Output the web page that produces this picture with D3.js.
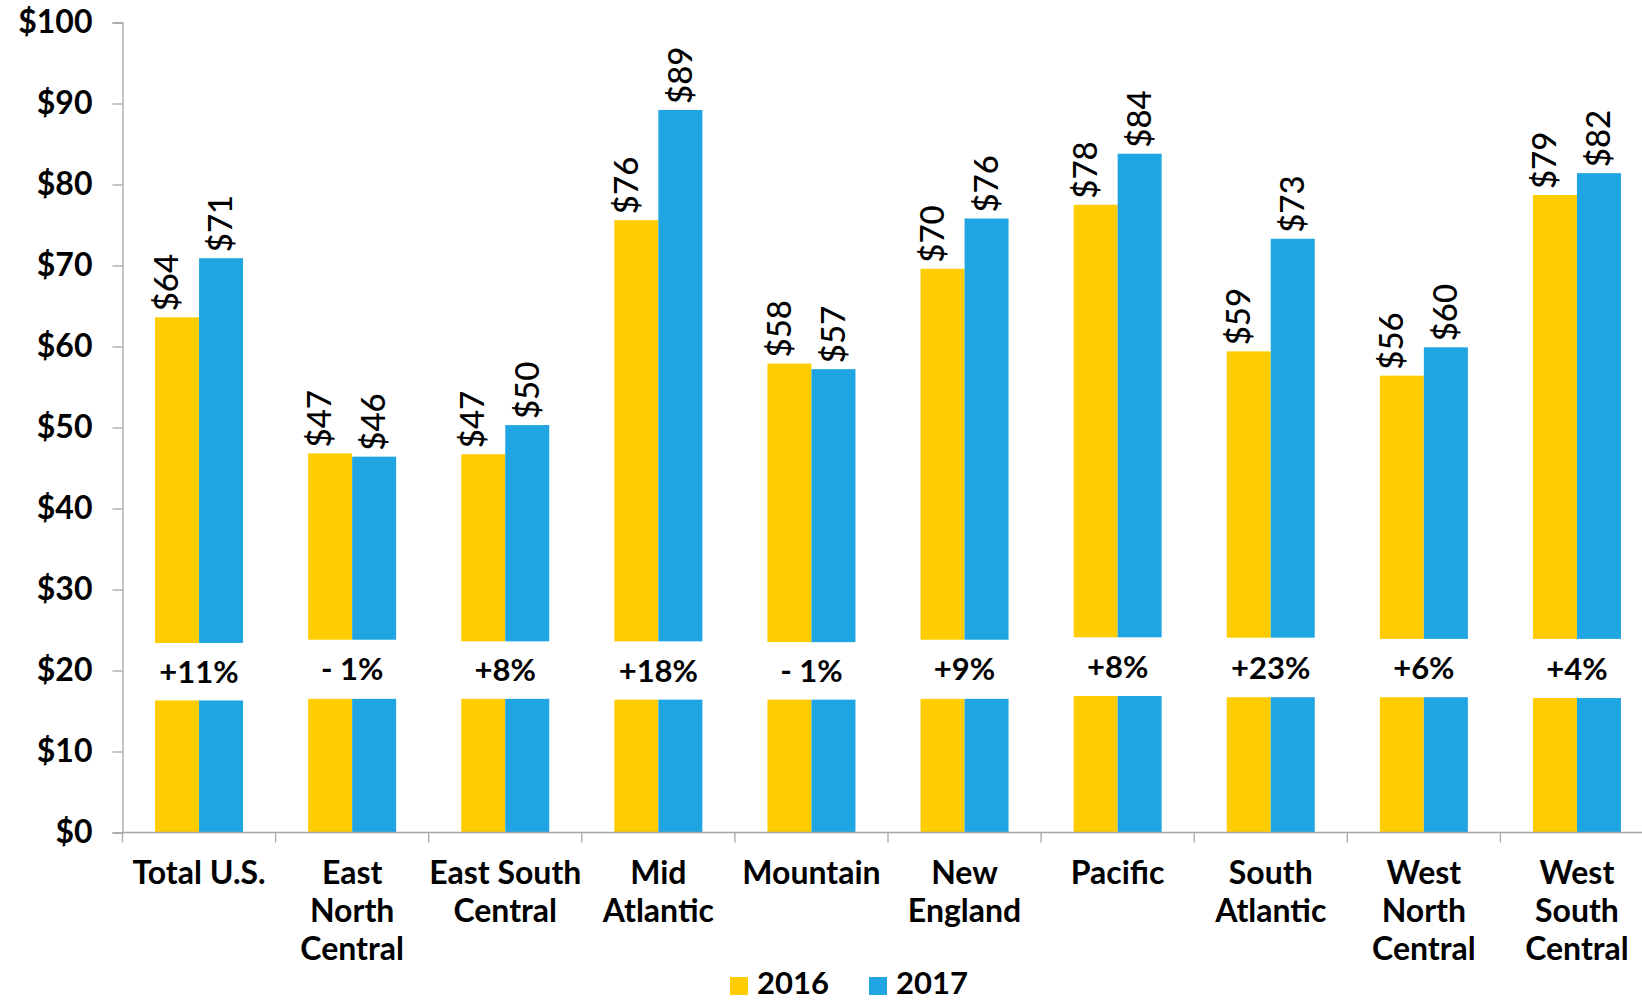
<!DOCTYPE html>
<html>
<head>
<meta charset="utf-8">
<script src="https://cdn.jsdelivr.net/npm/d3@7"></script>
<style>
  html, body { margin: 0; padding: 0; background: #fff; }
  svg { display: block; }
  text { font-family: Lato, "Open Sans", sans-serif; fill: #000; }
</style>
</head>
<body>
<svg id="chart" width="1642" height="1001"></svg>
<script>
// ---- data ----
const categories = ["Total U.S.", "East North Central", "East South Central", "Mid Atlantic", "Mountain",
                    "New England", "Pacific", "South Atlantic", "West North Central", "West South Central"];
const categoryLines = [["Total U.S."], ["East", "North", "Central"], ["East South", "Central"], ["Mid", "Atlantic"],
                       ["Mountain"], ["New", "England"], ["Pacific"], ["South", "Atlantic"],
                       ["West", "North", "Central"], ["West", "South", "Central"]];
const series = ["2016", "2017"];
const values2016 = [63.6, 46.8, 46.7, 75.6, 57.9, 69.6, 77.5, 59.4, 56.4, 78.7];
const values2017 = [70.9, 46.4, 50.3, 89.2, 57.2, 75.8, 83.8, 73.3, 59.9, 81.4];
const labels2016 = ["$64", "$47", "$47", "$76", "$58", "$70", "$78", "$59", "$56", "$79"];
const labels2017 = ["$71", "$46", "$50", "$89", "$57", "$76", "$84", "$73", "$60", "$82"];
const changeLabels = ["+11%", "- 1%", "+8%", "+18%", "- 1%", "+9%", "+8%", "+23%", "+6%", "+4%"];
// axis break (value units) per category: bars are interrupted between these values
const breakLow  = [16.3, 16.5, 16.5, 16.4, 16.4, 16.5, 16.85, 16.7, 16.7, 16.6];
const breakHigh = [23.4, 23.8, 23.6, 23.6, 23.5, 23.8, 24.1, 24.05, 23.9, 23.9];
const yTicks = [0, 10, 20, 30, 40, 50, 60, 70, 80, 90, 100];

const colors = { "2016": "#FFCC00", "2017": "#1FA5E1" };
const axisColor = "#a6a6a6";

// ---- layout ----
const svg = d3.select("#chart");
const x0 = 122.5, x1 = 1653.5;
const y = d3.scaleLinear().domain([0, 100]).range([832.5, 22.5]);
const x = d3.scaleBand().domain(categories).range([x0, x1]).paddingInner(0.4252).paddingOuter(0.2126);
const xs = d3.scaleBand().domain(series).range([0, x.bandwidth()]);

const rows = categories.map((c, i) => ({
  cat: c, i,
  vals: [
    { s: "2016", v: values2016[i], label: labels2016[i] },
    { s: "2017", v: values2017[i], label: labels2017[i] }
  ]
}));

// bars (two segments each, split by the break)
const g = svg.append("g");
rows.forEach(r => {
  r.vals.forEach(d => {
    const bx = x(r.cat) + xs(d.s);
    const w = xs.bandwidth();
    g.append("rect").attr("x", bx).attr("width", w)
      .attr("y", y(breakLow[r.i])).attr("height", y(0) - y(breakLow[r.i]))
      .attr("fill", colors[d.s]);
    g.append("rect").attr("x", bx).attr("width", w)
      .attr("y", y(d.v)).attr("height", y(breakHigh[r.i]) - y(d.v))
      .attr("fill", colors[d.s]);
    // rotated value label
    const cx = bx + w / 2 + (d.s === "2016" ? -8 : 2);
    g.append("text")
      .attr("transform", `translate(${cx},${y(d.v) - 6}) rotate(-90)`)
      .attr("dy", "0.28em")
      .attr("text-anchor", "start")
      .attr("font-size", 33)
      .attr("font-weight", 500)
      .text(d.label);
  });
  // change label centred in the break
  const mid = (y(breakLow[r.i]) + y(breakHigh[r.i])) / 2;
  g.append("text")
    .attr("x", x(r.cat) + x.bandwidth() / 2)
    .attr("y", mid)
    .attr("dy", "0.36em")
    .attr("text-anchor", "middle")
    .attr("font-size", 31)
    .attr("font-weight", 700)
    .text(changeLabels[r.i]);
});

// y axis
const yAxis = d3.axisLeft(y).tickValues(yTicks).tickSize(10).tickPadding(20).tickFormat(d => "$" + d);
const ya = svg.append("g").attr("transform", `translate(${x0},0)`).call(yAxis);
ya.select(".domain").attr("stroke", axisColor).attr("stroke-width", 1.3);
ya.selectAll(".tick line").attr("stroke", axisColor).attr("stroke-width", 1.3);
ya.selectAll(".tick text").attr("font-size", 32).attr("font-weight", 700)
  .attr("font-family", "Lato, sans-serif").attr("fill", "#000");

// x axis baseline + boundary ticks
const step = x.step();
const bounds = d3.range(categories.length + 1).map(i => x0 + i * step);
svg.append("line").attr("x1", x0).attr("x2", 1642).attr("y1", y(0)).attr("y2", y(0))
  .attr("stroke", axisColor).attr("stroke-width", 1.3);
svg.selectAll(".xtick").data(bounds).enter().append("line")
  .attr("x1", d => d).attr("x2", d => d).attr("y1", y(0)).attr("y2", y(0) + 10)
  .attr("stroke", axisColor).attr("stroke-width", 1.3);

// category labels
rows.forEach(r => {
  const t = svg.append("text")
    .attr("x", x(r.cat) + x.bandwidth() / 2)
    .attr("y", 884)
    .attr("text-anchor", "middle")
    .attr("font-size", 32)
    .attr("font-weight", 700);
  categoryLines[r.i].forEach((line, k) => {
    t.append("tspan").attr("x", x(r.cat) + x.bandwidth() / 2).attr("y", 884 + k * 38).text(line);
  });
});

// legend
const legend = svg.append("g");
const legendX = [730, 869];
series.forEach((s, k) => {
  legend.append("rect").attr("x", legendX[k]).attr("y", 977).attr("width", 18).attr("height", 18).attr("fill", colors[s]);
  legend.append("text").attr("x", legendX[k] + 27).attr("y", 994).attr("font-size", 31).attr("font-weight", 700).text(s);
});
</script>
</body>
</html>
